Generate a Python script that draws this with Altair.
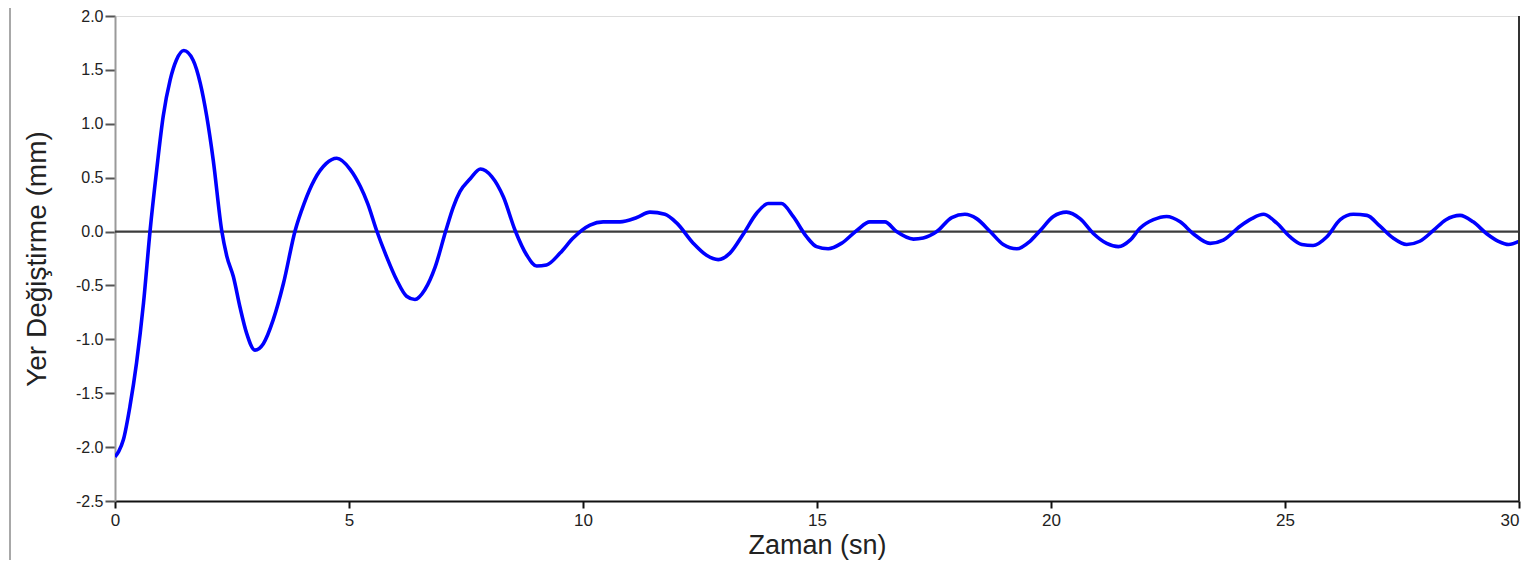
import altair as alt
import pandas as pd

# Time (s) and displacement (mm)
zaman = [0.00, 0.08, 0.18, 0.32, 0.46, 0.61, 0.75, 0.89, 1.03, 1.18, 1.31, 1.47, 1.67, 1.82, 1.96,
         2.10, 2.28, 2.39, 2.53, 2.67, 2.81, 2.99, 3.17, 3.38, 3.60, 3.85, 4.04, 4.26, 4.51,
         4.74, 5.02, 5.24, 5.40, 5.59, 5.80, 6.02, 6.23, 6.41, 6.62, 6.84, 7.07, 7.23, 7.37, 7.59,
         7.81, 8.05, 8.30, 8.55, 8.80, 9.01, 9.22, 9.51, 9.79, 10.15, 10.43, 10.79, 11.15,
         11.43, 11.75, 12.00, 12.36, 12.64, 12.89, 13.14, 13.43, 13.71, 13.96, 14.24, 14.49,
         14.78, 14.99, 15.24, 15.52, 15.85, 16.13, 16.45, 16.70, 17.06, 17.27, 17.56, 17.88,
         18.16, 18.41, 18.70, 18.98, 19.27, 19.55, 19.77, 20.05, 20.33, 20.62, 20.91, 21.19,
         21.44, 21.69, 21.90, 22.19, 22.47, 22.76, 23.04, 23.40, 23.68, 24.04, 24.29, 24.54,
         24.82, 25.11, 25.36, 25.60, 25.89, 26.18, 26.46, 26.75, 27.03, 27.31, 27.60, 27.88,
         28.17, 28.44, 28.74, 29.02, 29.31, 29.56, 29.78, 30.00]
yer_degistirme = [-2.09, -2.04, -1.93, -1.62, -1.22, -0.66, 0.01, 0.57, 1.07, 1.41, 1.59, 1.68, 1.59,
                  1.38, 1.07, 0.66, 0.01, -0.23, -0.42, -0.70, -0.94, -1.10, -1.04, -0.82,
                  -0.48, 0.01, 0.26, 0.48, 0.63, 0.68, 0.58, 0.42, 0.26, 0.01, -0.23, -0.45, -0.60,
                  -0.63, -0.54, -0.33, 0.01, 0.23, 0.37, 0.49, 0.58, 0.51, 0.32, 0.01, -0.22,
                  -0.32, -0.31, -0.20, -0.06, 0.06, 0.09, 0.09, 0.13, 0.18, 0.16, 0.08, -0.11,
                  -0.22, -0.26, -0.20, -0.02, 0.17, 0.26, 0.26, 0.14, -0.05, -0.14, -0.16,
                  -0.11, 0.01, 0.09, 0.09, 0.00, -0.07, -0.06, 0.00, 0.13, 0.16, 0.12, 0.00,
                  -0.12, -0.16, -0.09, 0.01, 0.14, 0.18, 0.12, -0.02, -0.11, -0.14, -0.08,
                  0.03, 0.11, 0.14, 0.09, -0.02, -0.11, -0.08, 0.05, 0.12, 0.16, 0.08, -0.05,
                  -0.12, -0.13, -0.05, 0.11, 0.16, 0.15, 0.05, -0.06, -0.12, -0.09, 0.01,
                  0.11, 0.15, 0.09, -0.02, -0.09, -0.12, -0.09]

x_ticks = [0, 5, 10, 15, 20, 25, 30]
y_ticks = [-2.5, -2.0, -1.5, -1.0, -0.5, 0.0, 0.5, 1.0, 1.5, 2.0]

df = pd.DataFrame({"t": zaman, "v": yer_degistirme})
zero_df = pd.DataFrame({"v": [0.0]})
right_df = pd.DataFrame({"t": [30.0]})

W, H = 1404, 485
FONT = "Liberation Sans"

x_scale = alt.Scale(domain=[0, 30], nice=False, zero=False)
y_scale = alt.Scale(domain=[-2.5, 2.0], nice=False, zero=False)

line = alt.Chart(df).mark_line(
    color="#0000ff", strokeWidth=3.6, interpolate="monotone", clip=True
).encode(
    x=alt.X("t:Q", scale=x_scale,
            axis=alt.Axis(values=x_ticks, format="d", title="Zaman (sn)",
                          grid=False, domainColor="#111111", domainWidth=2,
                          tickColor="#111111", tickWidth=2, tickSize=7,
                          labelPadding=4, labelFont=FONT, labelFontSize=17,
                          labelAlign=alt.condition("datum.value == 30", alt.value("right"), alt.value("center")),
                          labelColor="#222222", labelFlush=False, labelOverlap=False,
                          titleFont=FONT, titleFontSize=27, titleFontWeight="normal",
                          titleColor="#222222", titleX=W / 2, titleY=44,
                          titleAlign="center", titleBaseline="middle")),
    y=alt.Y("v:Q", scale=y_scale,
            axis=alt.Axis(values=y_ticks, title="Yer Değiştirme (mm)",
                          labelExpr="(datum.value < 0 ? '-' : '') + format(abs(datum.value), '.1f')",
                          grid=False, domainColor="#9a9a9a", domainWidth=2,
                          tickColor="#555555", tickWidth=2, tickSize=10,
                          labelPadding=2, labelFont=FONT, labelFontSize=16,
                          labelColor="#222222", labelOverlap=False, labelFlush=False,
                          titleFont=FONT, titleFontSize=28, titleFontWeight="normal",
                          titleColor="#222222", titleAngle=270, titleX=-78, titleY=H / 2,
                          titleAlign="center", titleBaseline="middle")),
)

zero_rule = alt.Chart(zero_df).mark_rule(color="#3c3c3c", strokeWidth=2.2).encode(
    y=alt.Y("v:Q", scale=y_scale)
)

right_rule = alt.Chart(right_df).mark_rule(color="#333333", strokeWidth=2).encode(
    x=alt.X("t:Q", scale=x_scale)
)

frame = alt.Chart(zero_df).mark_rule(color="#a8a8a8", strokeWidth=2).encode(
    x=alt.value(-105), y=alt.value(-8), y2=alt.value(H + 70)
)

chart = alt.layer(zero_rule, line, right_rule, frame).properties(
    width=W, height=H,
    autosize=alt.AutoSizeParams(type="none"),
    padding={"left": 107, "top": 8, "right": 2, "bottom": 59},
).configure_view(
    stroke="#a0a0a0", strokeWidth=2
).configure(background="white")

chart.save("out.html", embed_options={"renderer": "svg", "actions": False})
